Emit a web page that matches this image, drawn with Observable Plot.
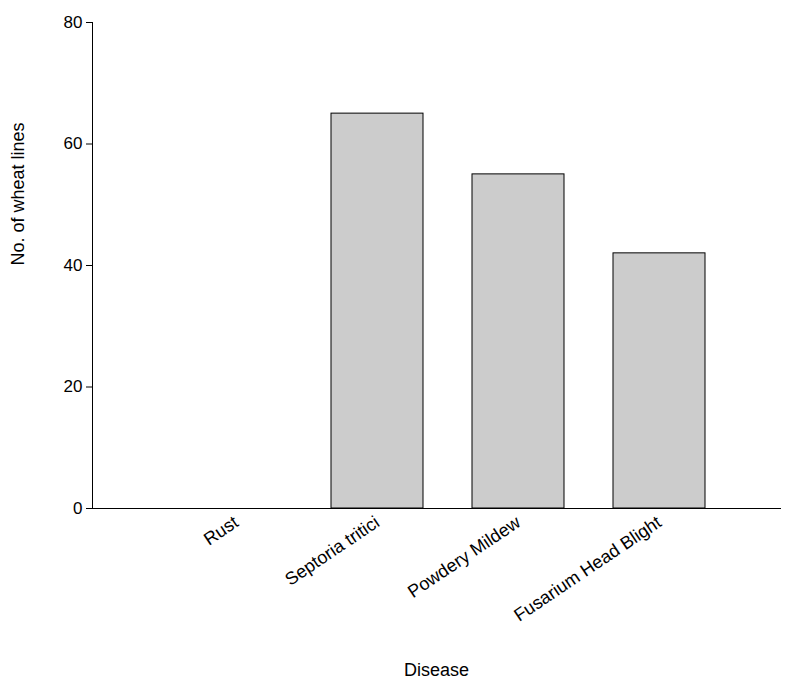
<!DOCTYPE html>
<html>
<head>
<meta charset="UTF-8">
<script src="https://cdn.jsdelivr.net/npm/d3@7"></script>
<script src="https://cdn.jsdelivr.net/npm/@observablehq/plot@0.6"></script>
<style>
  body { margin: 0; background: #fff; }
</style>
</head>
<body>
<div id="chart"></div>
<script>
const diseases = ["Rust", "Septoria tritici", "Powdery Mildew", "Fusarium Head Blight"];
const lines = [0, 65, 55, 42];
const yTicks = [0, 20, 40, 60, 80];

const data = diseases.map((d, i) => ({disease: d, value: lines[i]}));

const chart = Plot.plot({
  width: 791,
  height: 683,
  marginLeft: 92,
  marginRight: 11,
  marginTop: 22,
  marginBottom: 175,
  style: {fontFamily: "Liberation Sans, Arial, sans-serif", fontSize: "17px", color: "#000"},
  x: {domain: diseases, range: [164, 730], paddingInner: 0.35, paddingOuter: 0.175, label: null},
  y: {domain: [0, 80], label: null},
  marks: [
    Plot.barY(data, {x: "disease", y: "value", fill: "#cccccc", stroke: "#000", strokeWidth: 1}),
    Plot.frame({anchor: "left", stroke: "#000"}),
    Plot.frame({anchor: "bottom", stroke: "#000"}),
    Plot.axisY({ticks: yTicks, tickSize: 6, tickPadding: 4, fontSize: 17, label: null}),
    Plot.axisX({tickSize: 0, tickRotate: -34, tickPadding: 12, fontSize: 18, label: null}),
    Plot.text(["No. of wheat lines"], {frameAnchor: "left", dx: -74, rotate: -90, fontSize: 18}),
    Plot.text(["Disease"], {frameAnchor: "bottom", dy: 167, fontSize: 18})
  ]
});
document.getElementById("chart").appendChild(chart);
</script>
</body>
</html>
